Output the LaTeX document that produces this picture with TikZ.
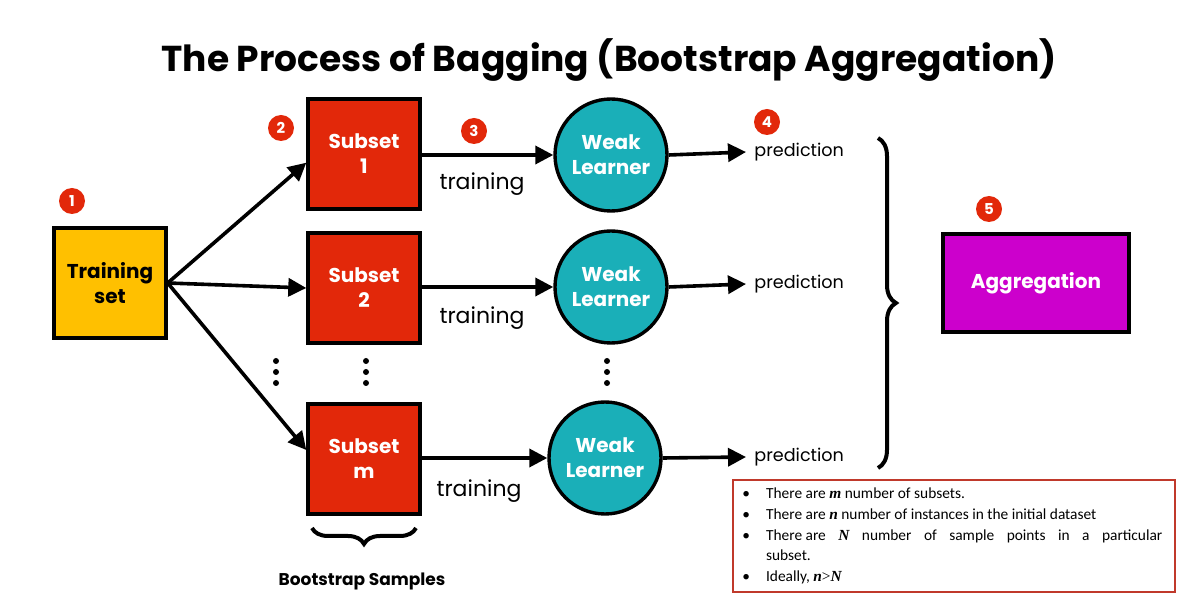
\documentclass[tikz,border=0pt]{standalone}
\usepackage{fontspec}
\setmainfont{Poppins}
\newfontfamily\notefont{Carlito}
\newfontfamily\mathlike{Liberation Serif}
\usetikzlibrary{arrows.meta,positioning,calc,decorations.pathreplacing}
\definecolor{trainyellow}{HTML}{FFC000}
\definecolor{subsetred}{HTML}{E2280A}
\definecolor{learnteal}{HTML}{1AAFB8}
\definecolor{aggmagenta}{HTML}{CC00CC}
\definecolor{notered}{HTML}{C0392B}
\tikzset{
  box/.style={draw=black, line width=1.7pt, minimum width=56pt, minimum height=55pt, align=center, font=\fontsize{10}{12.5}\selectfont\bfseries},
  subset/.style={box, fill=subsetred, text=white},
  learner/.style={circle, draw=black, line width=1.7pt, fill=learnteal, text=white, minimum size=56pt, align=center, font=\fontsize{10}{12.5}\selectfont\bfseries, inner sep=0pt},
  badge/.style={circle, fill=subsetred, text=white, minimum size=13pt, inner sep=0pt, font=\fontsize{7.5}{8}\selectfont\bfseries},
  flow/.style={-{Triangle[length=9pt,width=9pt]}, line width=1.8pt},
  lbl/.style={font=\fontsize{11}{12}\selectfont},
  pred/.style={font=\fontsize{8.8}{10}\selectfont, anchor=west, inner sep=1pt},
  dot/.style={circle, fill=black, inner sep=0pt, minimum size=3pt}
}
\newcommand{\nvar}[1]{{\mathlike\itshape\bfseries #1}}
\newcommand{\dotcol}[2]{\foreach \k in {0,1,2} {\node[dot] (#2\k) at (#1,361+\k*11) {};}}
\begin{document}
\begin{tikzpicture}[x=0.5pt,y=-0.5pt]
\useasboundingbox (0,0) rectangle (1200,614);
\node[font=\fontsize{18}{20}\selectfont\bfseries] (title) at (609,60) {The Process of Bagging (Bootstrap Aggregation)};

\node[box, fill=trainyellow] (T) at (110,283) {Training\\set};
\node[subset] (S1) at (364,154) {Subset\\1};
\node[subset] (S2) at (364,288) {Subset\\2};
\node[subset] (Sm) at (364,459) {Subset\\m};

\node[learner] (L1) at (611,155) {Weak\\Learner};
\node[learner] (L2) at (611,287) {Weak\\Learner};
\node[learner] (Lm) at (605,458) {Weak\\Learner};

\node[pred] (P1) at (752,152) {prediction};
\node[pred] (P2) at (752,284) {prediction};
\node[pred] (Pm) at (752,457) {prediction};

\node[box, fill=aggmagenta, text=white, minimum width=93pt, minimum height=49pt] (A) at (1036,283) {Aggregation};

\node[badge] (b1) at (72,201) {1};
\node[badge] (b2) at (281,128) {2};
\node[badge] (b3) at (474,131) {3};
\node[badge] (b4) at (767,122) {4};
\node[badge] (b5) at (989,209) {5};

\draw[flow] (T.east) -- ($(S1.south west)+(0,-48)$);
\draw[flow] (T.east) -- (S2.west);
\draw[flow] (T.east) -- ($(Sm.west)+(0,-9)$);
\draw[flow] (S1.east |- L1) -- (L1.west);
\draw[flow] (S2.east |- L2) -- (L2.west);
\draw[flow] (Sm.east |- Lm) -- (Lm.west);
\draw[flow] (L1.east) -- ($(P1.west)+(-6,0)$);
\draw[flow] (L2.east) -- ($(P2.west)+(-6,0)$);
\draw[flow] (Lm.east) -- ($(Pm.west)+(-6,0)$);

\node[lbl] (t1) at (482,184) {training};
\node[lbl] (t2) at (482,318) {training};
\node[lbl] (tm) at (479,491) {training};

\dotcol{276}{da}
\dotcol{366}{db}
\dotcol{607}{dc}

\draw[decorate, decoration={brace, amplitude=9pt}, line width=2pt] (878,138) -- (878,468);
\draw[decorate, decoration={brace, mirror, amplitude=8pt}, line width=2pt] (312,528) -- (416,528);
\node[font=\fontsize{8.5}{10}\selectfont\bfseries] (bs) at (362,581) {Bootstrap Samples};

\node[draw=notered, line width=0.8pt, minimum width=221pt, minimum height=56pt] (note) at (954,536) {};
\node[anchor=base west, font=\notefont\fontsize{7.7}{10.3}\selectfont, inner sep=0pt] (notetext) at (742,499) {%
\begin{tabular}[t]{@{}l@{\hspace{8pt}}l@{}}
\textbullet & There are \nvar{m} number of subsets.\\
\textbullet & There are \nvar{n} number of instances in the initial dataset\\
\textbullet & There are\hspace{4.5pt} \nvar{N}\hspace{4.5pt} number\hspace{4.5pt} of\hspace{4.5pt} sample\hspace{4.5pt} points\hspace{4.5pt} in\hspace{4.5pt} a\hspace{4.5pt} particular\\
 & subset.\\
\textbullet & Ideally, \nvar{n}{\mathlike>}\nvar{N}
\end{tabular}};
\end{tikzpicture}
\end{document}
